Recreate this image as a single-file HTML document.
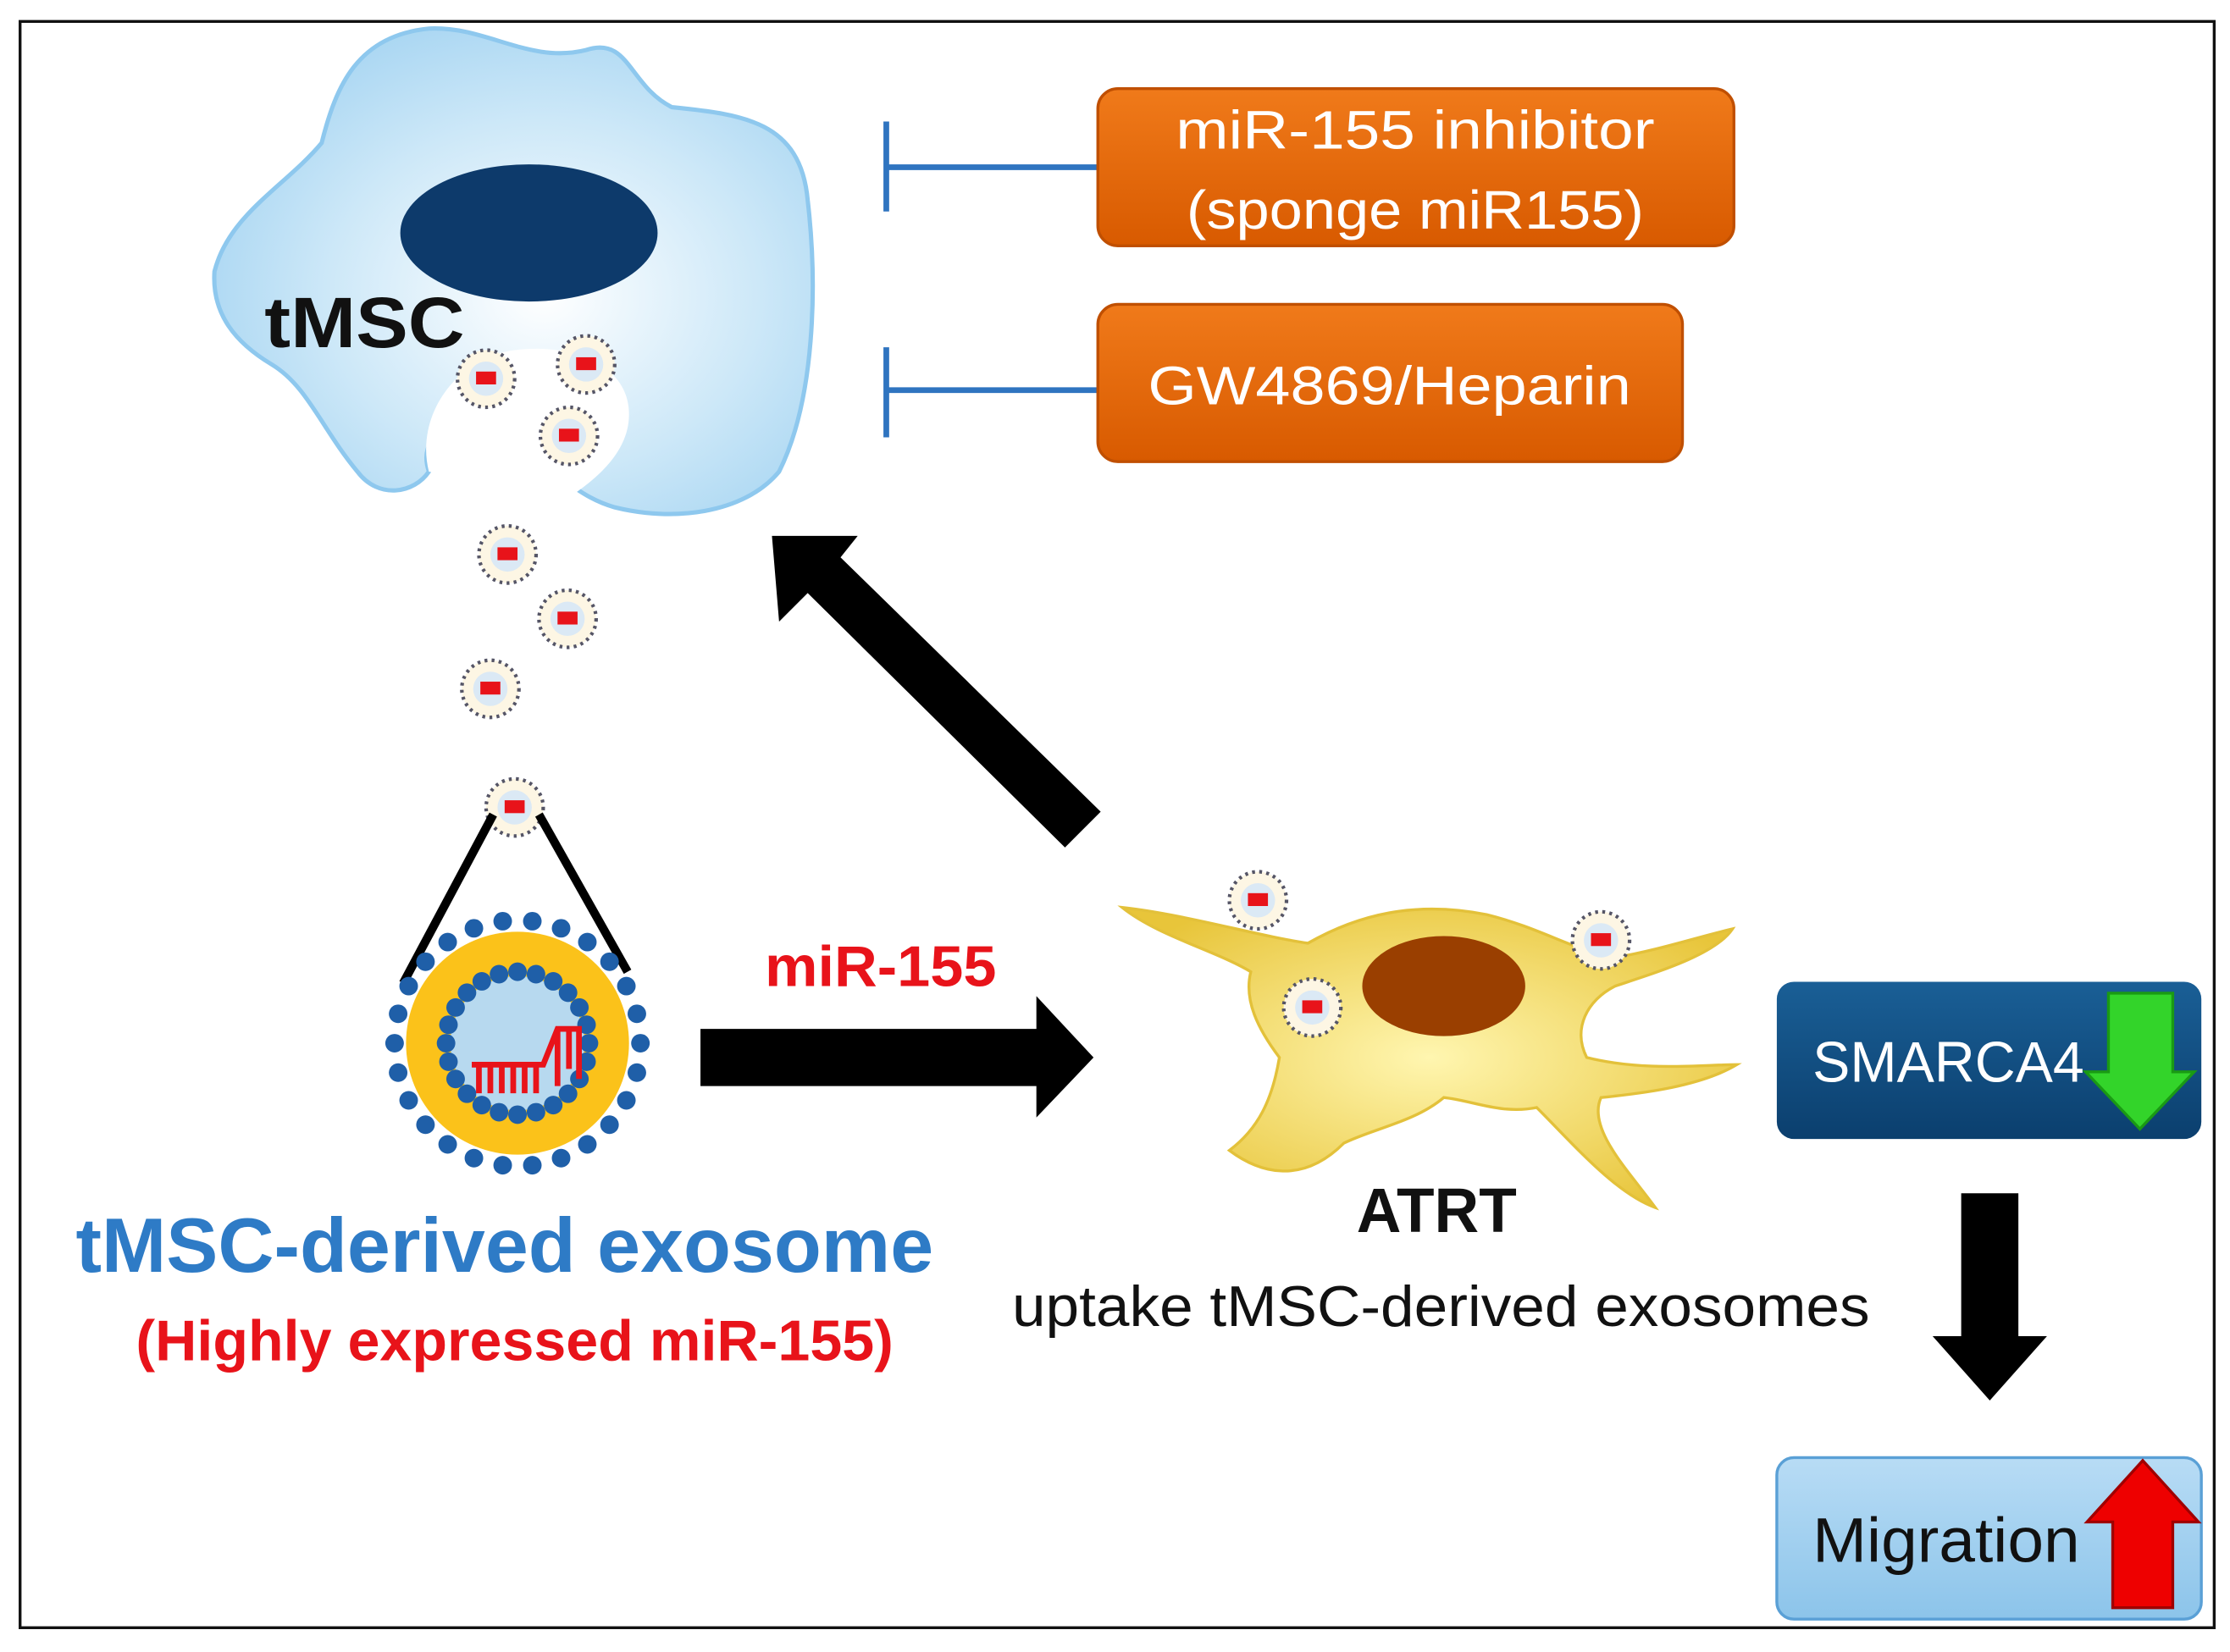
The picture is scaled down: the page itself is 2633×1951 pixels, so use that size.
<!DOCTYPE html>
<html><head><meta charset="utf-8"><style>
html,body{margin:0;padding:0;background:#fff;}
svg{display:block;}
text{font-family:"Liberation Sans",sans-serif;}
</style></head><body>
<svg id="s" width="2633" height="1951" viewBox="0 0 1560 1156" xmlns="http://www.w3.org/2000/svg">
<defs>
<radialGradient id="cellg" cx="0.55" cy="0.55" r="0.6">
<stop offset="0" stop-color="#ffffff"/><stop offset="0.6" stop-color="#cde8f8"/><stop offset="1" stop-color="#a9d6f2"/></radialGradient>
<linearGradient id="org" x1="0" y1="0" x2="0" y2="1"><stop offset="0" stop-color="#f07a1a"/><stop offset="1" stop-color="#d85a00"/></linearGradient>
<linearGradient id="blu" x1="0" y1="0" x2="0" y2="1"><stop offset="0" stop-color="#1a5f96"/><stop offset="1" stop-color="#0b3f6e"/></linearGradient>
<linearGradient id="lb" x1="0" y1="0" x2="0" y2="1"><stop offset="0" stop-color="#b8dcf5"/><stop offset="1" stop-color="#8cc4ea"/></linearGradient>
<radialGradient id="yel" cx="0.5" cy="0.5" r="0.6"><stop offset="0" stop-color="#fff6b0"/><stop offset="1" stop-color="#e8c53a"/></radialGradient>
</defs>
<rect x="14" y="15" width="1535" height="1124" fill="#fff" stroke="#111" stroke-width="2"/>

<path d="M150,190 C160,150 200,130 225,100 C235,60 250,25 300,20 C340,18 370,45 410,35 C440,25 440,60 470,75 C520,80 560,85 565,140 C572,200 570,280 545,330 C520,360 470,365 430,355 C395,345 390,320 355,330 C345,305 360,305 330,295 C300,300 295,315 300,330 C290,345 265,350 250,330 C225,300 215,270 190,255 C165,240 148,220 150,190 Z" fill="url(#cellg)" stroke="#8ec8ee" stroke-width="3"/>
<path d="M300,330 C290,290 320,250 360,245 C400,240 440,255 440,290 C440,320 410,340 395,350" fill="#fff" stroke="none"/>
<ellipse cx="370" cy="163" rx="90" ry="48" fill="#0d3a6b"/>
<text x="185" y="243" font-size="50" font-weight="bold" fill="#111" textLength="140" lengthAdjust="spacingAndGlyphs">tMSC</text>
<g id="ves"></g>

<g stroke="#2f74c0" stroke-width="4" fill="none">
<path d="M620,85 V148 M620,117 H768"/><path d="M620,243 V306 M620,273 H768"/></g>
<rect x="768" y="62" width="445" height="110" rx="14" fill="url(#org)" stroke="#c04f00" stroke-width="2"/>
<text x="990" y="104" font-size="38" fill="#fff" text-anchor="middle" textLength="335" lengthAdjust="spacingAndGlyphs">miR-155 inhibitor</text>
<text x="990" y="160" font-size="38" fill="#fff" text-anchor="middle" textLength="320" lengthAdjust="spacingAndGlyphs">(sponge miR155)</text>
<rect x="768" y="213" width="409" height="110" rx="14" fill="url(#org)" stroke="#c04f00" stroke-width="2"/>
<text x="972" y="283" font-size="38" fill="#fff" text-anchor="middle" textLength="338" lengthAdjust="spacingAndGlyphs">GW4869/Heparin</text>

<polygon points="540,375 600,375 588,390 770,568 745,593 565,415 545,435" fill="#000"/>
<polygon points="490,720 725,720 725,697 765,740 725,782 725,760 490,760" fill="#000"/>
<text x="535" y="690" font-size="40" font-weight="bold" fill="#e8131a" textLength="162" lengthAdjust="spacingAndGlyphs">miR-155</text>

<line x1="345" y1="570" x2="282" y2="688" stroke="#000" stroke-width="6"/>
<line x1="377" y1="570" x2="439" y2="680" stroke="#000" stroke-width="6"/>
<circle cx="362" cy="730" r="78" fill="#fbc21a"/>
<circle cx="362" cy="730" r="47" fill="#b7d9ef"/>
<g id="exo"></g>
<path d="M330,745 H380 L390,720 H405 V755 M335,745 V765 M343,745 V765 M351,745 V765 M359,745 V765 M367,745 V765 M375,745 V765 M390,720 V760 M398,722 V748" stroke="#e8131a" stroke-width="4" fill="none"/>

<path d="M785,635 C830,640 880,655 915,660 C950,640 990,630 1040,640 C1080,650 1100,665 1130,670 C1160,665 1190,655 1212,650 C1200,668 1160,680 1130,690 C1110,700 1100,720 1110,740 C1150,750 1190,745 1215,745 C1190,760 1150,765 1120,768 C1110,790 1140,820 1158,845 C1130,835 1100,800 1075,775 C1050,780 1030,770 1010,768 C990,785 960,790 940,800 C910,830 880,820 860,805 C880,790 890,770 895,740 C880,720 870,700 875,680 C850,665 810,655 785,635 Z" fill="url(#yel)" stroke="#e3c13a" stroke-width="2"/>
<ellipse cx="1010" cy="690" rx="57" ry="35" fill="#9a3f00"/>
<g id="ves2"></g>
<text x="1005" y="862" font-size="44" font-weight="bold" fill="#111" text-anchor="middle" textLength="112" lengthAdjust="spacingAndGlyphs">ATRT</text>
<text x="1008" y="928" font-size="40" fill="#111" text-anchor="middle" textLength="600" lengthAdjust="spacingAndGlyphs">uptake tMSC-derived exosomes</text>

<text x="353" y="890" font-size="54" font-weight="bold" fill="#2e7bc6" text-anchor="middle" textLength="600" lengthAdjust="spacingAndGlyphs">tMSC-derived exosome</text>
<text x="360" y="952" font-size="40" font-weight="bold" fill="#e8131a" text-anchor="middle" textLength="530" lengthAdjust="spacingAndGlyphs">(Highly expressed miR-155)</text>

<rect x="1243" y="687" width="297" height="110" rx="12" fill="url(#blu)"/>
<text x="1268" y="757" font-size="40" fill="#fff" textLength="190" lengthAdjust="spacingAndGlyphs">SMARCA4</text>
<polygon points="1475,695 1520,695 1520,750 1535,750 1497,790 1459,750 1475,750" fill="#33d42a" stroke="#1a9a14" stroke-width="2"/>
<polygon points="1372,835 1412,835 1412,935 1432,935 1392,980 1352,935 1372,935" fill="#000"/>
<rect x="1243" y="1020" width="297" height="113" rx="12" fill="url(#lb)" stroke="#5aa0d6" stroke-width="2"/>
<text x="1268" y="1093" font-size="44" fill="#111" textLength="187" lengthAdjust="spacingAndGlyphs">Migration</text>
<polygon points="1478,1125 1520,1125 1520,1065 1538,1065 1499,1022 1460,1065 1478,1065" fill="#ee0000" stroke="#a00000" stroke-width="2"/>
</svg>
<script>
var NS="http://www.w3.org/2000/svg";
function ves(g,x,y){var c=document.createElementNS(NS,"circle");c.setAttribute("cx",x);c.setAttribute("cy",y);c.setAttribute("r",20);c.setAttribute("fill","#fdf6e4");c.setAttribute("stroke","#556");c.setAttribute("stroke-width","2.5");c.setAttribute("stroke-dasharray","2 3");g.appendChild(c);
var d=document.createElementNS(NS,"circle");d.setAttribute("cx",x);d.setAttribute("cy",y);d.setAttribute("r",12);d.setAttribute("fill","#dbe9f5");g.appendChild(d);
var r=document.createElementNS(NS,"rect");r.setAttribute("x",x-7);r.setAttribute("y",y-5);r.setAttribute("width",14);r.setAttribute("height",9);r.setAttribute("fill","#e8131a");g.appendChild(r);}
var g=document.getElementById("ves");
[[340,265],[410,255],[398,305],[355,388],[397,433],[343,482],[360,565]].forEach(function(p){ves(g,p[0],p[1]);});
var g2=document.getElementById("ves2");
[[880,630],[1120,658],[918,705]].forEach(function(p){ves(g2,p[0],p[1]);});
var e=document.getElementById("exo");
function dot(x,y,r){var c=document.createElementNS(NS,"circle");c.setAttribute("cx",x);c.setAttribute("cy",y);c.setAttribute("r",r);c.setAttribute("fill","#1f5fa8");e.appendChild(c);}
for(var i=0;i<26;i++){var a=i/26*2*Math.PI;dot(362+86*Math.cos(a),730+86*Math.sin(a),6.5);}
for(var i=0;i<24;i++){var a=i/24*2*Math.PI;dot(362+50*Math.cos(a),730+50*Math.sin(a),6.5);}
</script>
</body></html>
